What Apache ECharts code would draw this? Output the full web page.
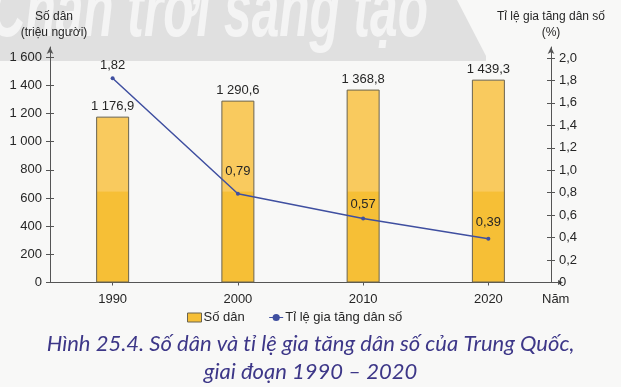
<!DOCTYPE html>
<html><head><meta charset="utf-8">
<script src="https://cdn.jsdelivr.net/npm/echarts@6/dist/echarts.min.js"></script>
<style>html,body{margin:0;padding:0;background:#f8f8f7;}#c{width:621px;height:387px;}</style>
</head><body><div id="c"></div>
<script>
const years = ['1990', '2000', '2010', '2020'];
const population = [1176.9, 1290.6, 1368.8, 1439.3];
const growthRate = [1.82, 0.79, 0.57, 0.39];
const leftTicks = [0, 200, 400, 600, 800, 1000, 1200, 1400, 1600];
const rightTicks = [0, 0.2, 0.4, 0.6, 0.8, 1.0, 1.2, 1.4, 1.6, 1.8, 2.0];
const rateLabelDist = [4, 14, 6, 8];

const G = {left: 50, right: 70, top: 47, bottom: 104.5};
const FONT = '"Liberation Sans", Arial, sans-serif';
const TXT = '#262626';
const AX = '#555';
const fmtPop = v => { const s = String(v).split('.'); const i = s[0].replace(/\B(?=(\d{3})+(?!\d))/g, ' '); return (s[1] ? i + ',' + s[1] : i); };
const fmtRate = v => v.toFixed(2).replace('.', ',');
const fmtTick = v => v === 0 ? '0' : v.toFixed(1).replace('.', ',');

const chart = echarts.init(document.getElementById('c'));
const W = 621, H = 387;
const axisBottomY = H - G.bottom, axisRightX = W - G.right;

const yBase = (pos, max, ticks, fmt) => ({
  type: 'value', position: pos, min: 0, max: max,
  splitLine: {show: false},
  axisLine: {show: true, lineStyle: {color: AX, width: 1}, symbol: ['none', 'arrow'], symbolSize: [5, 7]},
  axisTick: {show: true, length: 4, lineStyle: {color: AX}, customValues: ticks},
  axisLabel: {show: true, customValues: ticks, formatter: fmt, color: TXT, fontFamily: FONT, fontSize: 13, margin: 8}
});
const yDup = (pos, max, ticks) => ({
  type: 'value', position: pos, min: 0, max: max, offset: 0,
  splitLine: {show: false}, axisLine: {show: false},
  axisTick: {show: true, inside: true, length: 4, lineStyle: {color: AX}, customValues: ticks},
  axisLabel: {show: false}
});

const yLeft = yBase('left', 1671, leftTicks, v => fmtPop(v));
yLeft.name = 'Số dân\n(triệu người)';
yLeft.nameLocation = 'end'; yLeft.nameGap = 6;
yLeft.nameTextStyle = {color: TXT, fontFamily: FONT, fontSize: 12, lineHeight: 16, align: 'center', padding: [0, 0, 0, 8]};
const yRight = yBase('right', 2.098, rightTicks, v => fmtTick(v));
yRight.name = 'Tỉ lệ gia tăng dân số\n(%)';
yRight.nameLocation = 'end'; yRight.nameGap = 6;
yRight.nameTextStyle = {color: TXT, fontFamily: FONT, fontSize: 12, lineHeight: 16, align: 'center'};

const barFill = {type: 'linear', x: 0, y: 0, x2: 0, y2: H, global: true,
  colorStops: [{offset: 0, color: '#f9ca5e'}, {offset: 0.494, color: '#f9ca5e'}, {offset: 0.496, color: '#f6bf36'}, {offset: 1, color: '#f6bf36'}]};

chart.setOption({
  backgroundColor: '#f8f8f7',
  animation: false,
  grid: G,
  graphic: [
    {type: 'polygon', z: -10, silent: true, shape: {points: [[0, 0], [457, 0], [486, 56], [486, 61], [0, 61]]}, style: {fill: '#e0e0e0'}},
    {type: 'text', z: -9, silent: true, x: 428, y: 54, scaleX: 0.62, style: {text: 'Chân trời sáng tạo', fill: '#f4f4f4', font: 'italic bold 80px "Liberation Sans", sans-serif', textAlign: 'right', textVerticalAlign: 'bottom'}},
    {type: 'line', silent: true, shape: {x1: axisRightX, y1: axisBottomY, x2: axisRightX + 9, y2: axisBottomY}, style: {stroke: AX, lineWidth: 1}},
    {type: 'polygon', silent: true, shape: {points: [[axisRightX + 12, axisBottomY], [axisRightX + 7, axisBottomY - 2.5], [axisRightX + 7, axisBottomY + 2.5]]}, style: {fill: AX}},
    {type: 'text', silent: true, left: 'center', top: 330, style: {text: 'Hình 25.4. Số dân và tỉ lệ gia tăng dân số của Trung Quốc,\ngiai đoạn 1990 – 2020', fill: '#3d3788', font: 'italic 22px Lato, "Open Sans", sans-serif', textAlign: 'center', lineHeight: 28}}
  ],
  legend: {
    left: 182, top: 306, itemGap: 24, itemWidth: 14, itemHeight: 9,
    textStyle: {color: TXT, fontFamily: FONT, fontSize: 13, padding: [0, 0, 0, -3]},
    data: [
      {name: 'Số dân', icon: 'rect', itemStyle: {color: '#f6bf36', borderColor: '#6a6450', borderWidth: 1}},
      {name: 'Tỉ lệ gia tăng dân số', symbolSize: 3, lineStyle: {width: 1}}
    ]
  },
  xAxis: {
    type: 'category', data: years, boundaryGap: true,
    name: 'Năm', nameLocation: 'end', nameGap: -9,
    nameTextStyle: {color: TXT, fontFamily: FONT, fontSize: 13, verticalAlign: 'top', align: 'left', padding: [10, 0, 0, 0]},
    axisLine: {lineStyle: {color: AX, width: 1}},
    axisTick: {show: true, alignWithLabel: true, length: 3, lineStyle: {color: AX}},
    axisLabel: {color: TXT, fontFamily: FONT, fontSize: 13, margin: 10}
  },
  yAxis: [yLeft, yRight, yDup('left', 1671, leftTicks), yDup('right', 2.098, rightTicks)],
  series: [
    {
      name: 'Số dân', type: 'bar', yAxisIndex: 0, data: population, barWidth: 33,
      itemStyle: {color: barFill, borderColor: '#6a6450', borderWidth: 1},
      label: {show: true, position: 'top', distance: 4, formatter: p => fmtPop(p.value), color: TXT, fontFamily: FONT, fontSize: 13}
    },
    {
      name: 'Tỉ lệ gia tăng dân số', type: 'line', yAxisIndex: 1,
      data: growthRate.map((v, i) => ({value: v, label: {distance: rateLabelDist[i]}})),
      symbol: 'circle', symbolSize: 4, showSymbol: true,
      lineStyle: {color: '#3f4fa0', width: 1.5}, itemStyle: {color: '#3f4fa0'},
      label: {show: true, position: 'top', formatter: p => fmtRate(p.value), color: TXT, fontFamily: FONT, fontSize: 13}
    }
  ]
});
</script></body></html>
